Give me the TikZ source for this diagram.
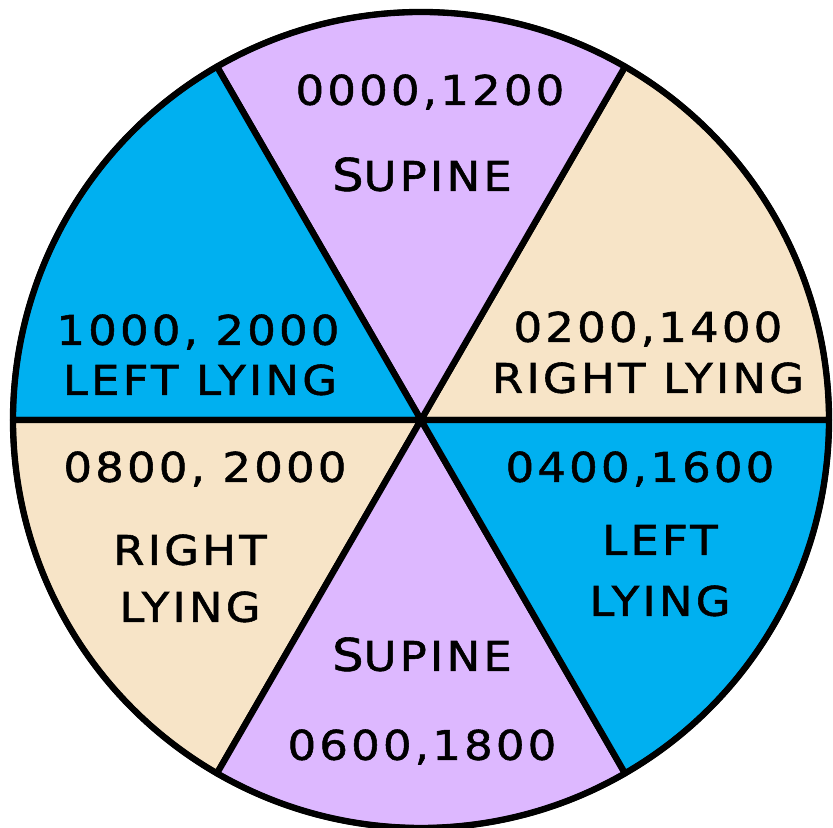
\documentclass[tikz,border=0pt]{standalone}
\usepackage{fontspec}
\usepackage{tikz}
\usetikzlibrary{positioning}
\newfontfamily\copperfont{DejaVu Sans}[FakeStretch=1.1, LetterSpace=8, FakeBold=1.3]
\usepackage{xcolor}
\definecolor{poseviolet}{RGB}{221,184,255}
\definecolor{posebeige}{RGB}{247,228,199}
\definecolor{poseblue}{RGB}{0,176,240}
\newcommand{\capS}{{\fontsize{12.8}{14}\selectfont S}}
\tikzset{
  sector/.style={draw=black, line width=1.8pt, line join=round},
  poslabel/.style={font=\copperfont\fontsize{11.6}{14}\selectfont, inner sep=0pt,
                   text height=8.4pt, text depth=0pt}
}

\begin{document}
\begin{tikzpicture}[x=0.01cm, y=0.01cm]
  \useasboundingbox (0,0) rectangle (833,828);
  \coordinate (hub) at (421,408);
  % Six turning sectors
  \foreach \a/\c in {0/posebeige, 60/poseviolet, 120/poseblue,
                     180/posebeige, 240/poseviolet, 300/poseblue} {
    \filldraw[sector, fill=\c] (hub) -- ++(\a:408) arc (\a:\a+60:408) -- cycle;
  }
  \draw[line width=1.6pt] (hub) circle (408);
  % Top: supine
  \node[poslabel] (topTime) at (430,738) {0000,1200};
  \node[poslabel] (topPose) at (422,652) {\capS UPINE};
  % Upper right: right lying
  \node[poslabel] (urTime) at (648,501) {0200,1400};
  \node[poslabel] (urPose) at (648,450) {RIGHT LYING};
  % Lower right: left lying
  \node[poslabel] (lrTime) at (640,361) {0400,1600};
  \node[poslabel] (lrPoseA) at (660,288) {LEFT};
  \node[poslabel] (lrPoseB) at (660,227) {LYING};
  % Bottom: supine
  \node[poslabel] (botPose) at (422,172) {\capS UPINE};
  \node[poslabel] (botTime) at (422,83) {0600,1800};
  % Lower left: right lying
  \node[poslabel] (llTime) at (205,361) {0800, 2000};
  \node[poslabel] (llPoseA) at (190,278) {RIGHT};
  \node[poslabel] (llPoseB) at (190,221) {LYING};
  % Upper left: left lying
  \node[poslabel] (ulTime) at (198,498) {1000, 2000};
  \node[poslabel] (ulPose) at (200,448) {LEFT LYING};
\end{tikzpicture}
\end{document}
